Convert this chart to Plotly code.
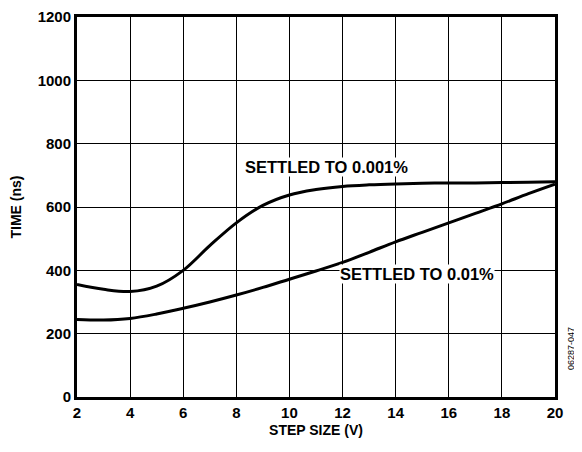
import plotly.graph_objects as go

step_v = [2, 3, 4, 5, 6, 7, 8, 9, 10, 11, 12, 13, 14, 15, 16, 17, 18, 19, 20]
t_0001 = [355, 340, 333, 350, 400, 478, 550, 605, 638, 655, 665, 670, 673, 675, 676, 676, 677, 678, 680]
t_001 = [245, 243, 248, 262, 280, 300, 322, 346, 372, 398, 425, 457, 490, 520, 550, 580, 610, 642, 672]

label_text = ["SETTLED TO 0.001%", "SETTLED TO 0.01%"]
label_x = [11.4, 14.8]
label_y = [727, 390]

x_ticks = list(range(2, 21, 2))
y_ticks = list(range(0, 1201, 200))

FONT = "Liberation Sans"

fig = go.Figure()
fig.add_trace(go.Scatter(x=step_v, y=t_0001, mode="lines", line=dict(color="black", width=3, shape="spline"),
                         showlegend=False, hoverinfo="skip"))
fig.add_trace(go.Scatter(x=step_v, y=t_001, mode="lines", line=dict(color="black", width=3, shape="spline"),
                         showlegend=False, hoverinfo="skip"))

for txt, lx, ly in zip(label_text, label_x, label_y):
    fig.add_annotation(x=lx, y=ly, text="<b>%s</b>" % txt, showarrow=False, bgcolor="white",
                       font=dict(family=FONT, size=16.5, color="black"), borderpad=0)

# small figure code on the right side
fig.add_annotation(x=1.0, y=0.0, xref="paper", yref="paper", text="06287-047", textangle=-90,
                   showarrow=False, xanchor="center", yanchor="middle", xshift=16, yshift=48,
                   font=dict(family=FONT, size=9, color="black"))

fig.update_xaxes(range=[2, 20], tickvals=x_ticks, ticktext=["<b>%d</b>" % v for v in x_ticks],
                 showgrid=True, gridcolor="black", gridwidth=1.3, zeroline=False, automargin=False,
                 showline=True, linecolor="black", linewidth=3, mirror=True, ticks="",
                 ticklabeloverflow="allow",
                 title=dict(text="<b>STEP SIZE (V)</b>", font=dict(family=FONT, size=14, color="black"), standoff=6),
                 tickfont=dict(family=FONT, size=15, color="black"))
fig.update_yaxes(range=[0, 1200], tickvals=y_ticks, ticktext=["<b>%d</b>" % v for v in y_ticks],
                 showgrid=True, gridcolor="black", gridwidth=1.3, zeroline=False, automargin=False,
                 showline=True, linecolor="black", linewidth=3, mirror=True, ticks="",
                 ticklabeloverflow="allow",
                 title=dict(text="<b>TIME (ns)</b>", font=dict(family=FONT, size=14, color="black")),
                 tickfont=dict(family=FONT, size=15, color="black"))

# page body has an 8px margin, so margins are reduced to keep the plot area in place
fig.update_layout(width=582, height=452, margin=dict(l=69, r=35, t=9, b=63),
                  plot_bgcolor="white", paper_bgcolor="white", font=dict(family=FONT))

fig.write_html("out.html")
